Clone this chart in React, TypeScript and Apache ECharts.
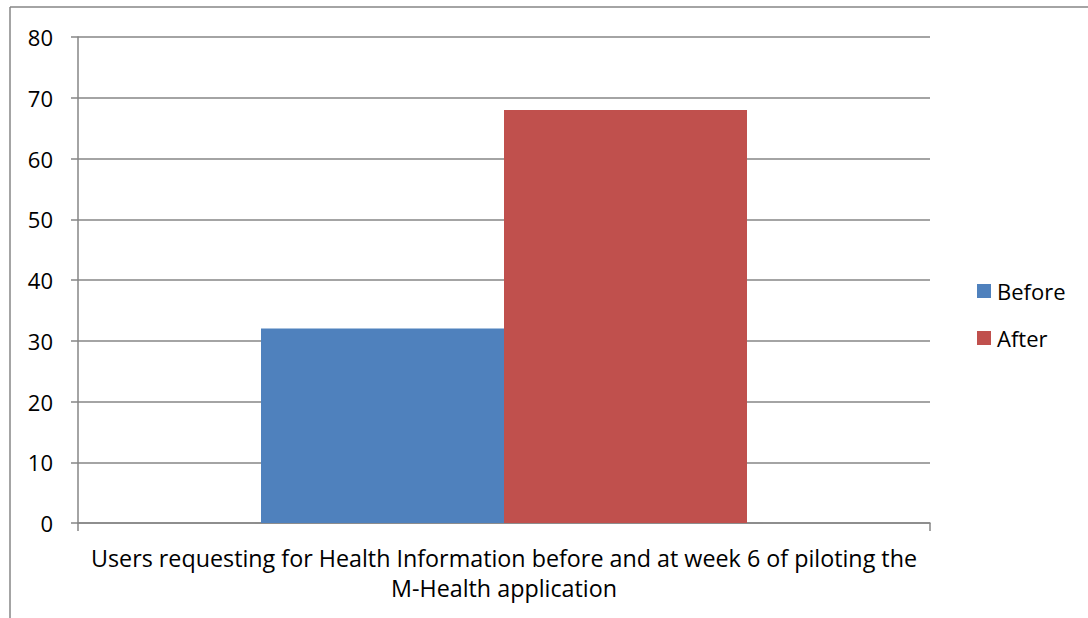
import React, { useEffect, useRef } from "react";
import * as echarts from "echarts";

const categories = [
  "Users requesting for Health Information before and at week 6 of piloting the\nM-Health application",
];
const beforeValues = [32];
const afterValues = [68];
const seriesNames = ["Before", "After"];
const yTicks = { min: 0, max: 80, interval: 10 };

const FONT = "'Open Sans', Lato, sans-serif";
const GRAY = "#868686";

export default function App() {
  const ref = useRef<HTMLDivElement>(null);
  useEffect(() => {
    if (!ref.current) return;
    const chart = echarts.init(ref.current, null, { renderer: "svg" });
    chart.setOption({
      animation: false,
      backgroundColor: "#ffffff",
      textStyle: { fontFamily: FONT },
      grid: { left: 78, right: 158, top: 37, bottom: 95, containLabel: false },
      legend: {
        orient: "vertical",
        left: 972,
        top: 271,
        itemWidth: 14,
        itemHeight: 14,
        itemGap: 17,
        icon: "rect",
        textStyle: { fontSize: 22, color: "#000", fontFamily: FONT, lineHeight: 30, padding: [0, 0, 0, 1] },
        data: seriesNames,
      },
      xAxis: {
        type: "category",
        data: categories,
        axisLine: { show: true, lineStyle: { color: GRAY, width: 1.5 } },
        axisTick: { show: true, length: 8, alignWithLabel: false, lineStyle: { color: GRAY, width: 1.5 } },
        axisLabel: {
          interval: 0,
          margin: 20,
          fontSize: 23.3,
          color: "#000",
          lineHeight: 30,
          fontFamily: FONT,
          align: "center",
        },
      },
      yAxis: {
        type: "value",
        min: yTicks.min,
        max: yTicks.max,
        interval: yTicks.interval,
        axisLine: { show: true, lineStyle: { color: GRAY, width: 1.5 } },
        axisTick: { show: true, length: 7, lineStyle: { color: GRAY, width: 1.5 } },
        axisLabel: { fontSize: 22, color: "#000", margin: 25, fontFamily: FONT },
        splitLine: { show: true, lineStyle: { color: GRAY, width: 1.5 } },
      },
      series: [
        {
          name: seriesNames[0],
          type: "bar",
          data: beforeValues,
          barWidth: 243,
          barGap: "0%",
          itemStyle: { color: "#4F81BD" },
        },
        {
          name: seriesNames[1],
          type: "bar",
          data: afterValues,
          barWidth: 243,
          barGap: "0%",
          itemStyle: { color: "#C0504D" },
        },
      ],
      graphic: [
        { type: "line", shape: { x1: 10, y1: 7, x2: 1088, y2: 7 }, style: { stroke: GRAY, lineWidth: 1.5 } },
        { type: "line", shape: { x1: 10, y1: 7, x2: 10, y2: 618 }, style: { stroke: GRAY, lineWidth: 1.5 } },
      ],
    });
    return () => chart.dispose();
  }, []);
  return (
    <div
      ref={ref}
      style={{ position: "absolute", left: 0, top: 0, width: 1088, height: 618 }}
    />
  );
}
